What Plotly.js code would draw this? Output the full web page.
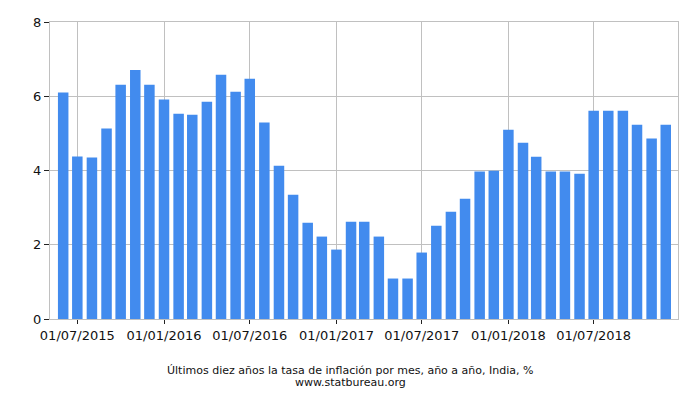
<!DOCTYPE html>
<html>
<head>
<meta charset="utf-8">
<script src="https://cdn.plot.ly/plotly-3.0.1.min.js"></script>
<style>html,body{margin:0;padding:0;background:#fff;}#chart{width:700px;height:400px;}</style>
</head>
<body>
<div id="chart"></div>
<script>
// Monthly dates, June 2015 – December 2018
const months = [
  '2015-06-01','2015-07-01','2015-08-01','2015-09-01','2015-10-01','2015-11-01','2015-12-01',
  '2016-01-01','2016-02-01','2016-03-01','2016-04-01','2016-05-01','2016-06-01','2016-07-01',
  '2016-08-01','2016-09-01','2016-10-01','2016-11-01','2016-12-01',
  '2017-01-01','2017-02-01','2017-03-01','2017-04-01','2017-05-01','2017-06-01','2017-07-01',
  '2017-08-01','2017-09-01','2017-10-01','2017-11-01','2017-12-01',
  '2018-01-01','2018-02-01','2018-03-01','2018-04-01','2018-05-01','2018-06-01','2018-07-01',
  '2018-08-01','2018-09-01','2018-10-01','2018-11-01','2018-12-01'
];
const inflation = [
  6.10, 4.38, 4.35, 5.13, 6.31, 6.71, 6.31,
  5.91, 5.53, 5.50, 5.85, 6.58, 6.12, 6.47,
  5.29, 4.13, 3.35, 2.59, 2.22,
  1.87, 2.62, 2.62, 2.22, 1.09, 1.09, 1.79,
  2.51, 2.89, 3.24, 3.97, 3.99,
  5.10, 4.75, 4.37, 3.97, 3.97, 3.91, 5.61,
  5.61, 5.61, 5.23, 4.86, 5.23
];
const yTicks = [0, 2, 4, 6, 8];
const titleLine1 = 'Últimos diez años la tasa de inflación por mes, año a año, India, %';
const titleLine2 = 'www.statbureau.org';

const dayMs = 86400000;
const trace = {
  type: 'bar',
  x: months,
  y: inflation,
  width: months.map(() => 22.3 * dayMs),
  marker: {color: '#428BEE'},
  hoverinfo: 'x+y'
};

const cx = (350 - 50) / 628;
const layout = {
  width: 700, height: 400,
  margin: {l: 50, r: 22, t: 22, b: 81},
  paper_bgcolor: '#fff', plot_bgcolor: '#fff',
  font: {family: 'DejaVu Sans, sans-serif', size: 13, color: '#111'},
  showlegend: false,
  xaxis: {
    type: 'date',
    range: ['2015-05-04', '2018-12-27'],
    tick0: '2015-07-01', dtick: 'M6',
    tickformat: '%d/%m/%Y',
    ticks: 'outside', ticklen: 4, tickcolor: '#222', tickwidth: 1,
    showgrid: true, gridcolor: '#c0c0c0', gridwidth: 1,
    showline: true, linecolor: '#c0c0c0', linewidth: 1, mirror: true,
    zeroline: false,
    tickfont: {size: 13, color: '#111'}
  },
  yaxis: {
    range: [0, 8],
    tickvals: yTicks,
    ticks: 'outside', ticklen: 5, tickcolor: '#222', tickwidth: 1,
    showgrid: true, gridcolor: '#c0c0c0', gridwidth: 1,
    showline: true, linecolor: '#c0c0c0', linewidth: 1, mirror: true,
    zeroline: false,
    tickfont: {size: 13, color: '#111'}
  },
  annotations: [
    {text: titleLine1, xref: 'paper', yref: 'paper', x: cx, y: (319 - 370.5) / 297,
     xanchor: 'center', yanchor: 'middle', showarrow: false, borderpad: 0,
     font: {size: 11, color: '#111', family: 'DejaVu Sans, sans-serif'}},
    {text: titleLine2, xref: 'paper', yref: 'paper', x: cx, y: (319 - 382.5) / 297,
     xanchor: 'center', yanchor: 'middle', showarrow: false, borderpad: 0,
     font: {size: 11, color: '#111', family: 'DejaVu Sans, sans-serif'}}
  ]
};

Plotly.newPlot('chart', [trace], layout, {displayModeBar: false, staticPlot: true});
</script>
</body>
</html>
